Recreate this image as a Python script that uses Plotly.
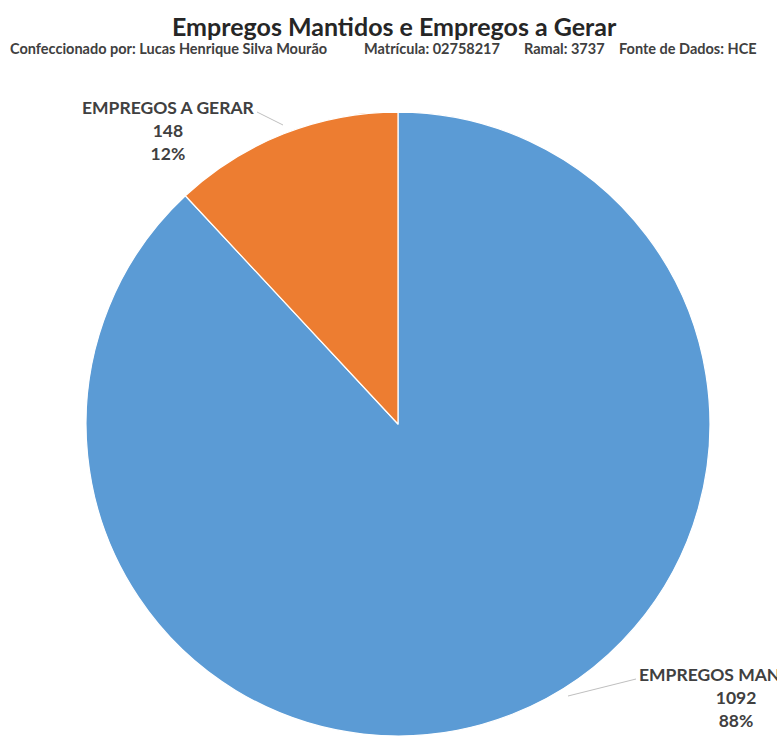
import plotly.graph_objects as go

# ---- data ----
categories = ["EMPREGOS MANTIDOS", "EMPREGOS A GERAR"]
values = [1092, 148]
colors = ["#5B9BD5", "#ED7D31"]
title_text = "Empregos Mantidos e Empregos a Gerar"
subtitle_parts = [
    "Confeccionado por: Lucas Henrique Silva Mourão",
    "Matrícula: 02758217",
    "Ramal: 3737",
    "Fonte de Dados: HCE",
]

W, H = 777, 740
FONT = "Lato"

def px(x):
    return x / W

def py(y):
    return 1 - y / H

total = sum(values)
pcts = [round(v / total * 100) for v in values]

fig = go.Figure()
fig.add_trace(go.Pie(
    labels=categories,
    values=values,
    marker=dict(colors=colors, line=dict(color="white", width=1.2)),
    sort=False,
    direction="clockwise",
    rotation=0,
    textinfo="none",
    hoverinfo="label+value+percent",
    showlegend=False,
    domain=dict(x=[0.1107, 0.9137], y=[0.0054, 0.8486]),
))

annotations = []
annotations.append(dict(
    text=f"<b>{title_text}</b>", x=px(395), y=py(26), xref="paper", yref="paper",
    xanchor="center", yanchor="middle", showarrow=False,
    font=dict(family=FONT, size=25, color="#262626"),
))
sub_x = [8, 362, 522, 617]
for t, x in zip(subtitle_parts, sub_x):
    annotations.append(dict(
        text=f"<b>{t}</b>", x=px(x), y=py(49), xref="paper", yref="paper",
        xanchor="left", yanchor="middle", showarrow=False,
        font=dict(family=FONT, size=14.5, color="#404040"),
    ))

# data labels (category, value, percent)
label_pos = {1: (168, 130), 0: (736, 697)}
for i, (cx, cy) in label_pos.items():
    annotations.append(dict(
        text=f"<b>{categories[i]}</b><br><b>{values[i]}</b><br><b>{pcts[i]}%</b>",
        x=px(cx), y=py(cy), xref="paper", yref="paper",
        xanchor="center", yanchor="middle", showarrow=False, align="center",
        font=dict(family=FONT, size=17.5, color="#404040"),
    ))

shapes = [
    dict(type="line", xref="paper", yref="paper", x0=px(257), y0=py(112), x1=px(283), y1=py(125),
         line=dict(color="#BFBFBF", width=1)),
    dict(type="line", xref="paper", yref="paper", x0=px(636), y0=py(679), x1=px(568), y1=py(696),
         line=dict(color="#BFBFBF", width=1)),
]

fig.update_layout(
    width=W, height=H,
    margin=dict(l=0, r=0, t=0, b=0),
    paper_bgcolor="white", plot_bgcolor="white",
    annotations=annotations,
    shapes=shapes,
    font=dict(family=FONT),
)

fig.write_html("out.html", config={"displayModeBar": False},
               post_script="document.body.style.margin='0px';")
